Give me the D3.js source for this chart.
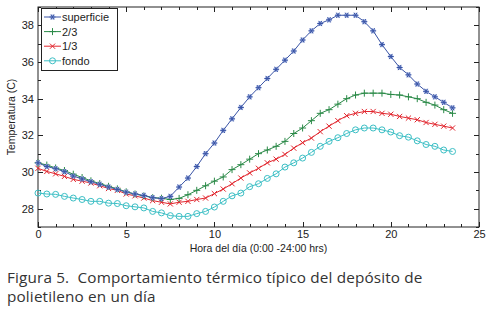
<!DOCTYPE html>
<html><head><meta charset="utf-8">
<script src="https://cdn.jsdelivr.net/npm/d3@7"></script>
<style>body{margin:0;background:#fff}svg{display:block}</style>
</head><body>
<svg id="c" width="493" height="310"></svg>
<script>
const hours = d3.range(48).map(i => i * 0.5);
const seriesNames = ["superficie", "2/3", "1/3", "fondo"];
const superficie = [30.5,30.3,30.18,30.02,29.78,29.62,29.47,29.33,29.18,29.05,28.9,28.8,28.72,28.6,28.55,28.67,29.18,29.67,30.3,31.0,31.58,32.27,32.9,33.52,34.1,34.6,35.1,35.6,36.1,36.6,37.2,37.7,38.1,38.3,38.55,38.55,38.55,38.2,37.7,36.95,36.3,35.7,35.3,34.8,34.4,34.1,33.8,33.5];
const dosTercios = [30.5,30.38,30.22,30.08,29.88,29.7,29.52,29.37,29.22,29.08,28.92,28.8,28.7,28.6,28.57,28.5,28.56,28.76,29.0,29.25,29.5,29.73,30.13,30.4,30.7,31.0,31.2,31.4,31.67,32.1,32.4,32.8,33.2,33.4,33.7,34.0,34.2,34.3,34.3,34.3,34.23,34.2,34.1,34.0,33.8,33.65,33.4,33.2];
const unTercio = [30.2,30.03,29.9,29.76,29.6,29.5,29.4,29.25,29.1,29.0,28.8,28.7,28.58,28.44,28.35,28.26,28.35,28.4,28.5,28.58,28.82,29.07,29.36,29.67,29.95,30.2,30.5,30.7,30.96,31.3,31.6,31.85,32.2,32.5,32.8,33.07,33.2,33.3,33.3,33.2,33.15,33.03,32.94,32.85,32.7,32.6,32.5,32.4];
const fondo = [28.85,28.8,28.78,28.67,28.58,28.5,28.4,28.4,28.3,28.28,28.16,28.1,28.04,27.85,27.77,27.62,27.58,27.58,27.73,27.85,28.09,28.4,28.7,28.85,29.2,29.36,29.65,29.9,30.27,30.5,30.76,31.07,31.4,31.67,31.87,32.1,32.3,32.4,32.4,32.3,32.18,31.98,31.9,31.7,31.5,31.4,31.2,31.12];
const xTicks = [0,5,10,15,20,25];
const yTicks = [28,30,32,34,36,38];
const xLabel = "Hora del día (0:00 -24:00 hrs)";
const yLabel = "Temperatura (C)";
const caption = ["Figura 5.  Comportamiento térmico típico del depósito de", "polietileno en un día"];

const colors = ["#3a54a6", "#2b8a48", "#e2262e", "#3cbfc5"];
const markers = ["star", "plus", "cross", "circle"];
const allSeries = [superficie, dosTercios, unTercio, fondo];

const L = 38, R = 479, T = 7, B = 227;
const svg = d3.select("#c");
const x = d3.scaleLinear().domain([0,25]).range([L,R]);
const y = d3.scaleLinear().domain([27,39]).range([B,T]);
const font = "'Liberation Sans', Arial, sans-serif";

// frame
svg.append("rect").attr("x",L).attr("y",T).attr("width",R-L).attr("height",B-T)
  .attr("fill","none").attr("stroke","#222").attr("stroke-width",1);

// ticks (inward, minor each unit)
const tk = svg.append("g").attr("stroke","#222").attr("stroke-width",1);
d3.range(0,26).forEach(v => {
  const len = v % 5 === 0 ? 5 : 3;
  const px = Math.round(x(v)) + 0.5;
  tk.append("line").attr("x1",px).attr("x2",px).attr("y1",B).attr("y2",B-len);
  tk.append("line").attr("x1",px).attr("x2",px).attr("y1",T).attr("y2",T+len);
});
d3.range(27,40).forEach(v => {
  const len = v % 2 === 0 ? 5 : 3;
  const py = Math.round(y(v)) + 0.5;
  tk.append("line").attr("x1",L).attr("x2",L+len).attr("y1",py).attr("y2",py);
  tk.append("line").attr("x1",R).attr("x2",R-len).attr("y1",py).attr("y2",py);
});

// tick labels via axes
const xa = svg.append("g").attr("transform",`translate(0,${B})`)
  .call(d3.axisBottom(x).tickValues(xTicks).tickSize(0).tickPadding(3));
const ya = svg.append("g").attr("transform",`translate(${L},0)`)
  .call(d3.axisLeft(y).tickValues(yTicks).tickSize(0).tickPadding(4));
[xa, ya].forEach(a => {
  a.select(".domain").remove();
  a.selectAll("text").attr("font-family",font).attr("font-size",11).attr("fill","#222");
});

svg.append("text").attr("x",(L+R)/2).attr("y",251.5).attr("text-anchor","middle")
  .attr("font-family",font).attr("font-size",10.5).attr("fill","#222").text(xLabel);
svg.append("text").attr("transform",`translate(15,${(T+B)/2}) rotate(-90)`).attr("text-anchor","middle")
  .attr("font-family",font).attr("font-size",10.5).attr("fill","#222").text(yLabel);

function drawMarker(g, type, cx, cy, color) {
  if (type === "star") {
    g.append("circle").attr("cx",cx).attr("cy",cy).attr("r",2.6).attr("fill","#9aaee0").attr("opacity",0.8);
    const r = 3;
    [0,60,120].forEach(a => {
      const rad = a*Math.PI/180;
      g.append("line").attr("x1",cx-r*Math.cos(rad)).attr("y1",cy-r*Math.sin(rad))
        .attr("x2",cx+r*Math.cos(rad)).attr("y2",cy+r*Math.sin(rad))
        .attr("stroke",color).attr("stroke-width",1);
    });
  } else if (type === "plus") {
    const r = 3.5;
    g.append("line").attr("x1",cx-r).attr("x2",cx+r).attr("y1",cy).attr("y2",cy).attr("stroke",color);
    g.append("line").attr("x1",cx).attr("x2",cx).attr("y1",cy-r).attr("y2",cy+r).attr("stroke",color);
  } else if (type === "cross") {
    const r = 2.6;
    g.append("line").attr("x1",cx-r).attr("x2",cx+r).attr("y1",cy-r).attr("y2",cy+r).attr("stroke",color);
    g.append("line").attr("x1",cx-r).attr("x2",cx+r).attr("y1",cy+r).attr("y2",cy-r).attr("stroke",color);
  } else {
    g.append("circle").attr("cx",cx).attr("cy",cy).attr("r",3).attr("fill","none").attr("stroke",color);
  }
}

const line = d3.line().x((d,i) => x(hours[i])).y(d => y(d));
[3,2,1,0].forEach(si => {
  const g = svg.append("g");
  g.append("path").attr("d", line(allSeries[si])).attr("fill","none").attr("stroke",colors[si]).attr("stroke-width",1);
  allSeries[si].forEach((v,i) => drawMarker(g, markers[si], x(hours[i]), y(v), colors[si]));
});

// legend
const lg = svg.append("g");
lg.append("rect").attr("x",41.5).attr("y",8.5).attr("width",76).attr("height",62)
  .attr("fill","#fff").attr("stroke","#222");
seriesNames.forEach((n,i) => {
  const ly = 17 + i*14.6;
  lg.append("line").attr("x1",44).attr("x2",61).attr("y1",ly).attr("y2",ly).attr("stroke",colors[i]);
  drawMarker(lg, markers[i], 52.5, ly, colors[i]);
  lg.append("text").attr("x",62).attr("y",ly+4).attr("font-family",font).attr("font-size",11)
    .attr("fill","#222").text(n);
});

// caption
caption.forEach((c,i) => {
  svg.append("text").attr("x",7).attr("y",283 + i*19).attr("font-family","'Open Sans', 'Noto Sans', sans-serif")
    .attr("font-size",15.3).attr("letter-spacing",0.15).attr("fill","#333").style("white-space","pre").text(c);
});
</script>
</body></html>
